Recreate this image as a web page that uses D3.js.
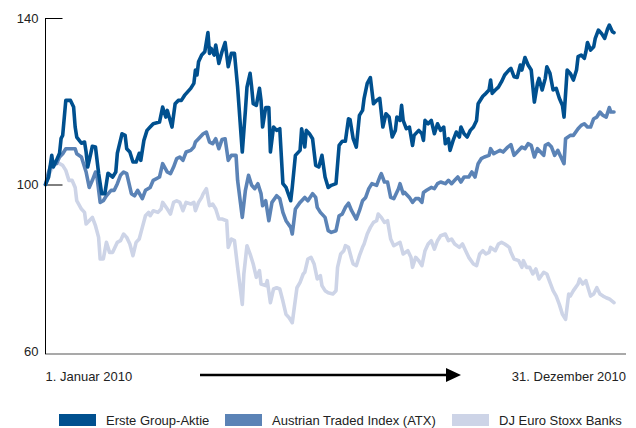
<!DOCTYPE html>
<html><head><meta charset="utf-8">
<script src="https://cdn.jsdelivr.net/npm/d3@7"></script>
<style>
body{margin:0;background:#fff}
svg{display:block}
text{font-family:"Liberation Sans",Arial,Helvetica,sans-serif;}
</style>
</head><body>
<svg id="c" width="636" height="428"></svg>
<script>
const seriesNames = ["Erste Group-Aktie", "Austrian Traded Index (ATX)", "DJ Euro Stoxx Banks"];
const seriesColors = ["#00508f", "#5b83b6", "#cdd4e7"];
const yTickValues = [60, 100, 140];
const startLabel = "1. Januar 2010";
const endLabel = "31. Dezember 2010";

// day of year (0 = 1. Januar, 364 = 31. Dezember), index value (start = 100)
const ersteDays = [0,2,4,5,7,9,10,11,13,16,18,19,20,23,25,26,27,29,30,32,34,36,38,40,43,45,46,49,51,52,54,56,58,60,61,63,65,67,69,73,75,77,78,81,83,85,87,89,93,95,96,97,98,100,102,104,105,106,108,109,111,113,115,117,119,121,123,126,128,129,131,132,133,135,137,138,139,141,143,144,146,148,150,152,154,157,158,160,163,164,166,167,169,171,173,175,177,179,181,183,186,188,190,192,194,195,197,199,201,203,204,206,208,210,212,214,216,218,220,222,224,225,227,228,229,231,233,235,236,239,241,242,243,245,247,249,251,253,255,256,258,259,261,263,265,266,268,270,272,274,276,277,280,282,284,285,286,288,290,292,294,297,298,300,302,304,305,307,309,311,313,315,316,318,320,321,323,325,327,329,331,332,334,336,338,340,341,343,345,346,347,349,351,352,354,356,358,360,361,363,364];
const ersteValues = [100.0,101.8,107.0,104.2,105.8,107.5,111.1,111.8,120.2,120.2,118.6,113.8,111.4,109.9,110.2,107.8,104.2,107.5,109.2,109.0,102.7,97.8,97.8,102.7,101.8,103.0,107.5,112.2,111.8,108.6,107.8,105.4,105.4,107.5,105.8,110.6,113.0,113.8,114.6,115.0,118.6,116.2,117.8,113.8,119.4,120.2,120.2,121.4,123.1,124.3,127.5,126.3,129.5,131.1,131.9,136.5,131.5,132.7,131.1,133.5,129.1,131.9,134.1,128.3,131.5,131.5,123.4,107.8,117.8,123.4,126.7,123.4,119.4,119.0,123.1,120.2,113.8,118.5,118.5,107.8,113.8,113.0,113.4,100.2,99.3,96.1,99.3,107.0,108.2,113.4,109.0,113.0,112.2,111.0,104.6,104.2,107.0,101.8,99.3,99.8,100.2,109.4,110.4,110.4,115.8,115.6,111.0,109.0,116.6,117.8,120.7,124.3,125.7,119.4,120.2,120.7,113.8,117.0,116.2,111.4,113.0,116.2,115.4,119.0,115.4,113.4,113.8,109.4,111.8,113.0,112.2,110.6,115.4,114.6,115.4,112.2,114.6,113.0,113.8,109.8,111.0,108.2,110.6,112.6,111.4,113.8,112.2,111.4,113.0,113.8,115.4,119.4,121.2,121.9,122.7,125.1,121.9,122.7,123.4,124.7,126.3,127.6,127.9,125.9,125.7,128.7,127.5,130.5,128.7,127.5,119.8,124.3,125.5,122.7,125.5,128.3,126.7,122.7,123.1,120.7,119.0,116.2,127.5,126.7,125.1,127.5,130.7,131.1,130.3,131.9,134.1,132.3,133.1,135.1,137.1,136.3,135.1,137.5,138.3,136.7,136.5];

const atxDays = [0,2,4,7,9,11,13,16,19,20,23,25,26,28,30,32,33,35,37,39,42,44,46,48,50,52,55,57,59,62,64,67,69,73,75,78,80,82,84,86,88,90,93,95,96,98,101,103,105,107,109,111,113,115,117,119,122,123,126,128,130,132,134,136,138,139,141,143,145,148,150,152,154,157,158,160,163,166,168,171,173,174,176,179,181,183,186,188,190,192,194,196,199,201,203,205,207,209,212,214,215,217,219,221,223,226,227,229,230,233,235,237,239,241,242,244,247,249,251,253,256,258,260,262,264,266,268,271,273,275,277,279,281,284,285,287,289,291,293,296,298,300,302,305,307,309,311,313,315,317,319,320,322,324,326,328,330,332,333,336,338,341,343,345,347,349,351,353,355,357,359,361,362,364];
const atxValues = [100.0,103.0,105.4,105.0,106.6,107.4,108.6,108.6,108.6,107.4,106.6,104.2,103.0,99.3,101.0,103.0,101.8,95.7,96.1,97.3,98.6,98.6,100.2,102.2,103.0,102.6,97.8,97.3,98.6,96.6,98.6,99.3,101.0,101.8,105.0,103.0,102.6,104.2,106.2,106.6,105.8,107.8,108.2,109.0,110.2,111.0,112.2,112.6,110.2,109.8,111.0,108.6,110.8,111.0,105.8,107.0,107.0,101.0,92.1,98.6,102.2,99.8,99.0,100.2,97.8,94.9,96.1,91.3,95.7,97.3,96.6,93.3,91.3,89.7,88.1,94.1,95.7,96.9,96.1,97.8,96.9,94.5,93.3,92.1,88.9,88.5,88.9,92.5,92.9,94.5,95.5,93.7,91.7,93.7,96.1,96.9,99.0,100.2,99.8,101.8,102.6,100.6,100.6,96.9,96.6,99.0,100.2,97.8,98.1,96.9,95.7,96.6,96.6,95.7,98.1,98.6,99.3,99.0,100.2,100.6,100.2,101.0,100.2,101.0,101.8,100.6,101.8,101.8,103.0,101.8,105.0,106.2,106.6,107.0,108.6,107.4,107.8,108.2,107.8,109.0,109.6,107.0,107.8,109.0,108.6,109.8,109.4,106.6,108.6,107.8,107.0,109.4,109.8,109.0,107.0,108.2,106.6,105.0,111.0,111.8,111.8,113.4,114.2,114.6,113.8,113.8,115.8,116.2,117.4,116.6,116.2,118.5,117.4,117.4];

const djDays = [0,2,4,7,9,11,13,15,17,19,20,23,25,26,28,30,32,34,35,37,39,41,43,46,48,50,52,54,56,58,60,62,64,66,67,69,72,74,75,78,80,82,84,86,88,90,93,95,96,98,100,101,103,105,107,109,111,113,116,117,119,121,123,126,127,129,131,133,135,137,138,141,142,144,146,148,150,152,154,156,158,159,161,163,165,166,168,170,172,174,176,177,179,181,184,186,187,189,191,192,194,196,197,199,201,203,204,206,208,210,212,213,215,217,219,221,223,225,227,229,232,234,235,237,239,241,243,245,247,249,251,253,256,258,260,262,265,267,269,271,274,276,278,280,282,284,285,288,290,292,294,297,298,300,303,305,306,308,310,312,314,316,319,321,323,325,327,329,331,333,335,336,338,341,342,344,346,349,351,353,355,357,359,361,364];
const djValues = [100.0,102.2,103.8,105.4,105.0,104.6,103.4,101.0,101.0,99.3,96.1,94.1,93.3,90.5,91.3,92.1,90.1,87.3,82.1,82.1,86.1,83.7,83.7,86.1,86.5,88.1,87.3,85.7,82.9,86.1,86.9,89.7,92.5,93.3,92.5,93.7,93.3,94.1,95.7,94.1,92.9,95.7,96.1,95.7,93.7,95.7,95.3,95.7,93.7,95.7,96.9,97.8,99.0,94.9,95.3,94.1,91.7,91.7,91.3,84.9,86.9,86.5,80.1,71.2,78.5,85.3,83.3,80.9,77.7,79.3,76.1,75.7,76.9,71.6,74.9,75.2,74.9,72.0,68.8,68.0,66.8,69.6,75.2,76.5,78.5,78.9,82.1,82.5,80.9,77.3,78.1,75.7,74.5,74.0,73.7,74.5,80.1,83.3,84.1,85.3,84.9,82.1,80.9,80.5,82.9,84.9,85.7,88.1,89.7,90.9,91.3,92.9,92.1,90.9,91.3,86.9,85.3,85.7,86.1,83.3,84.1,82.5,80.1,82.5,81.7,80.5,84.1,85.7,86.5,84.5,86.5,87.7,88.1,86.5,86.9,85.7,84.9,85.7,84.1,82.5,80.9,80.5,83.3,84.1,83.3,83.7,84.9,84.1,85.7,86.1,85.7,84.9,83.7,82.1,81.7,80.1,81.7,80.1,80.1,78.5,79.7,77.3,78.9,78.5,76.5,74.5,73.2,71.2,68.8,67.6,73.7,73.2,74.5,76.1,77.3,76.1,76.9,73.2,73.7,75.2,73.7,73.2,72.8,72.5,71.6];

const svg = d3.select("#c");
const x = d3.scaleLinear().domain([0, 364]).range([45.5, 614]);
const y = d3.scaleLinear().domain([60, 140]).range([351, 18]);

// y axis
const yAxis = d3.axisLeft(y).tickValues(yTickValues).tickSize(-17).tickPadding(7).tickFormat(d3.format("d"));
const gy = svg.append("g").attr("transform", "translate(45.5,0)").call(yAxis);
gy.select(".domain").remove();
gy.selectAll(".tick line").attr("stroke", "#000").attr("stroke-width", 1)
  .filter(d => d === 60).remove();
gy.selectAll(".tick text").attr("font-size", 13).attr("fill", "#222")
  .attr("font-family", "'Liberation Sans',Arial,sans-serif");

// series lines (draw light first)
const line = d3.line().x(d => x(d[0])).y(d => y(d[1]));
const series = [
  {days: djDays, values: djValues, color: seriesColors[2]},
  {days: atxDays, values: atxValues, color: seriesColors[1]},
  {days: ersteDays, values: ersteValues, color: seriesColors[0]}
];
series.forEach(s => {
  const pts = s.days.map((d, i) => [d, s.values[i]]);
  svg.append("path").datum(pts).attr("d", line)
    .attr("fill", "none").attr("stroke", s.color).attr("stroke-width", 3.6)
    .attr("stroke-linejoin", "round").attr("stroke-linecap", "round");
});

// axis lines
svg.append("line").attr("x1", 45).attr("x2", 626).attr("y1", 354).attr("y2", 354)
  .attr("stroke", "#8c8c8c").attr("stroke-width", 1.6);
svg.append("line").attr("x1", 45.5).attr("x2", 45.5).attr("y1", 18).attr("y2", 354)
  .attr("stroke", "#000").attr("stroke-width", 1);

// bottom labels & arrow
svg.append("text").attr("x", x(0)).attr("y", 381).attr("font-size", 13).attr("fill", "#222").text(startLabel);
svg.append("text").attr("x", 626).attr("y", 381).attr("text-anchor", "end").attr("font-size", 13).attr("fill", "#222").text(endLabel);
svg.append("line").attr("x1", 200).attr("x2", 448).attr("y1", 375).attr("y2", 375)
  .attr("stroke", "#000").attr("stroke-width", 2.5);
svg.append("path").attr("d", "M446,368L461,375L446,382Z").attr("fill", "#000");

// legend
const legendX = [59, 225, 452];
seriesNames.forEach((name, i) => {
  const g = svg.append("g").attr("transform", `translate(${legendX[i]},414)`);
  g.append("rect").attr("width", 37).attr("height", 12).attr("fill", seriesColors[i]);
  g.append("text").attr("x", 47).attr("y", 11).attr("font-size", 13).attr("fill", "#222").text(name);
});
</script>
</body></html>
